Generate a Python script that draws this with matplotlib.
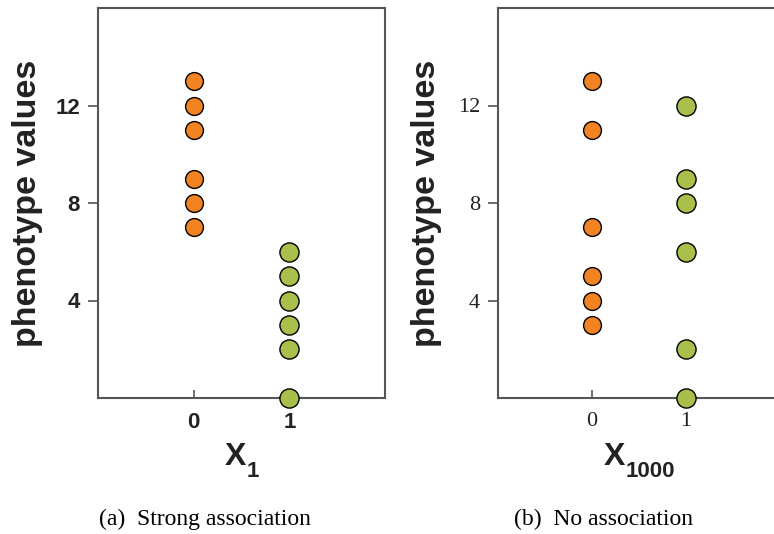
import matplotlib
matplotlib.use('Agg')
from matplotlib import pyplot as plt

# --- data ---
genotype = [0, 1]
strong_x0 = [13, 12, 11, 9, 8, 7]
strong_x1 = [6, 5, 4, 3, 2, 0]
none_x0 = [13, 11, 7, 5, 4, 3]
none_x1 = [12, 9, 8, 6, 2, 0]
yticks = [4, 8, 12]
captions = ['(a)  Strong association', '(b)  No association']
xlabel_subs = ['1', '1000']

ORANGE = '#F28322'
GREEN = '#A9BF4B'
SPINE = '#555555'
TXT = '#222222'

W, H = 774, 534
fig = plt.figure(figsize=(W / 100, H / 100), dpi=100)
renderer = fig.canvas.get_renderer()


def xlabel_text(ax, sub):
    ''' X_sub ラベルを2つのテキストで組む '''
    cx = ax.transData.transform((0.5, 0))[0]
    main = fig.text(0, (H - 465) / H, 'X', family='Liberation Sans',
                    weight='bold', fontsize=23, color=TXT, va='baseline')
    subt = fig.text(0, (H - 477) / H, sub, family='Liberation Sans',
                    weight='bold', fontsize=16, color=TXT, va='baseline')
    w1 = main.get_window_extent(renderer).width
    w2 = subt.get_window_extent(renderer).width
    x0 = cx - (w1 + w2) / 2
    main.set_x(x0 / W)
    subt.set_x((x0 + w1 + 1) / W)


def make_panel(left, width, y0, y1, tick_font, tick_weight, sub, lab_x):
    ''' 1パネル描画 '''
    ax = fig.add_axes([left / W, (H - 398) / H, width / W, 390 / H])
    ax.scatter([genotype[0]] * len(y0), y0, s=165, c=ORANGE,
               edgecolors='black', linewidths=1.0, zorder=3, clip_on=False)
    ax.scatter([genotype[1]] * len(y1), y1, s=190, c=GREEN,
               edgecolors='black', linewidths=1.0, zorder=3, clip_on=False)
    ax.set_xlim(-1, 2)
    ax.set_ylim(0, 16)
    ax.set_xticks(genotype)
    ax.set_yticks(yticks)
    for s in ax.spines.values():
        s.set_color(SPINE)
        s.set_linewidth(1.5)
    ax.tick_params(axis='y', direction='out', length=7, width=1.2,
                   color=SPINE, pad=6)
    ax.tick_params(axis='x', direction='in', length=6, width=1.2,
                   color=SPINE, pad=10)
    for lb in ax.get_xticklabels() + ax.get_yticklabels():
        lb.set_family(tick_font)
        lb.set_weight(tick_weight)
        lb.set_fontsize(16)
        lb.set_color(TXT)
    ax.set_ylabel('phenotype values', family='Liberation Sans',
                  weight='bold', fontsize=24.5, color=TXT)
    ax.yaxis.set_label_coords(lab_x, 0.5)
    xlabel_text(ax, sub)
    return ax


make_panel(98, 287, strong_x0, strong_x1, 'Liberation Sans', 'bold',
           xlabel_subs[0], -0.19)
make_panel(498, 282, none_x0, none_x1, 'Liberation Serif', 'normal',
           xlabel_subs[1], -0.20)

fig.text(205 / W, (H - 519) / H, captions[0], family='Liberation Serif',
         fontsize=17, ha='center', va='center')
fig.text(603 / W, (H - 519) / H, captions[1], family='Liberation Serif',
         fontsize=17, ha='center', va='center')

fig.savefig('out.png', dpi=100)
